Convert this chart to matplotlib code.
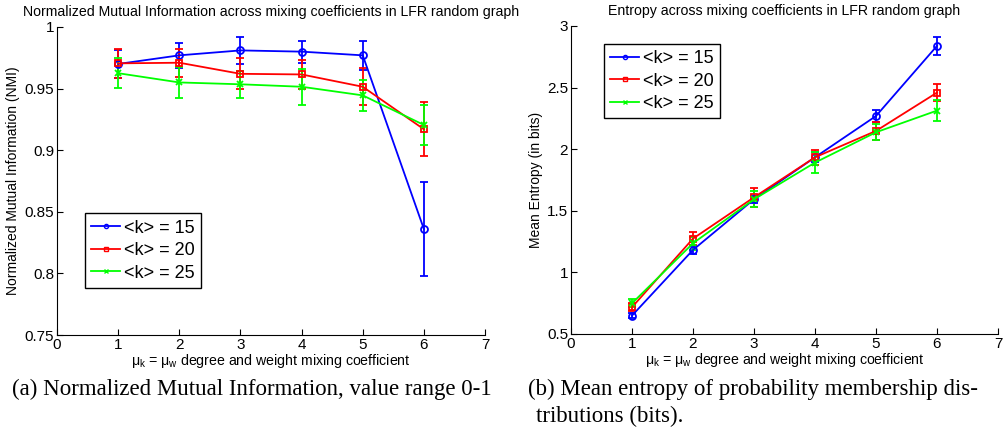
import numpy as np
import matplotlib
matplotlib.use('Agg')
import matplotlib.pyplot as plt
from matplotlib.ticker import FormatStrFormatter
from matplotlib.lines import Line2D

plt.rcParams['font.family'] = 'Liberation Sans'
plt.rcParams['mathtext.fontset'] = 'custom'
plt.rcParams['mathtext.rm'] = 'Liberation Sans'
plt.rcParams['mathtext.it'] = 'Liberation Sans'

# ============= Data
mu = [1, 2, 3, 4, 5, 6]
labels = ['<k> = 15', '<k> = 20', '<k> = 25']

nmi_k15 = [0.970, 0.977, 0.981, 0.980, 0.977, 0.836]
nmi_k15_err = [0.011, 0.010, 0.011, 0.009, 0.012, 0.038]
nmi_k20 = [0.9705, 0.971, 0.962, 0.9615, 0.9515, 0.917]
nmi_k20_err = [0.012, 0.0115, 0.0125, 0.012, 0.015, 0.022]
nmi_k25 = [0.9625, 0.955, 0.9535, 0.9515, 0.9445, 0.9205]
nmi_k25_err = [0.012, 0.0125, 0.011, 0.0145, 0.0125, 0.0165]

ent_k15 = [0.649, 1.182, 1.593, 1.934, 2.269, 2.838]
ent_k15_err = [0.02, 0.035, 0.03, 0.04, 0.045, 0.075]
ent_k20 = [0.717, 1.274, 1.609, 1.934, 2.148, 2.459]
ent_k20_err = [0.033, 0.052, 0.076, 0.061, 0.074, 0.069]
ent_k25 = [0.749, 1.236, 1.593, 1.891, 2.137, 2.313]
ent_k25_err = [0.031, 0.055, 0.064, 0.084, 0.064, 0.086]

colors = ['#0000ff', '#ff0000', '#00ff00']
markers = ['o', 's', 'x']
msizes = [5, 4.5, 4]

fig = plt.figure(figsize=(10.04, 4.32), dpi=100)
ax1 = fig.add_axes([0.0568, 0.2245, 0.4263, 0.713])
ax2 = fig.add_axes([0.5687, 0.2269, 0.4253, 0.713])


def draw(ax, series, errs, yticks, ylim, title, ylabel):
    for i in range(3):
        ax.errorbar(mu, series[i], yerr=errs[i], color=colors[i], marker=markers[i],
                    markersize=msizes[i], mfc='none', mew=1.3, linewidth=1.3,
                    elinewidth=1.3, capsize=2.8, capthick=1.3)
    ax.set_xlim(0, 7)
    ax.set_ylim(*ylim)
    ax.set_xticks(range(8))
    ax.set_yticks(yticks)
    ax.yaxis.set_major_formatter(FormatStrFormatter('%g'))
    ax.spines['top'].set_visible(False)
    ax.spines['right'].set_visible(False)
    ax.tick_params(direction='in', length=4, labelsize=11, pad=2)
    ax.set_title(title, fontsize=10.2, pad=8)
    ax.set_ylabel(ylabel, fontsize=10, labelpad=3)
    ax.set_xlabel(r'$\mu_k$ = $\mu_w$ degree and weight mixing coefficient', fontsize=10.2, labelpad=0.5)


draw(ax1, [nmi_k15, nmi_k20, nmi_k25], [nmi_k15_err, nmi_k20_err, nmi_k25_err],
     [0.75, 0.8, 0.85, 0.9, 0.95, 1.0], (0.75, 1.0),
     'Normalized Mutual Information across mixing coefficients in LFR random graph',
     'Normalized Mutual Information (NMI)')
draw(ax2, [ent_k15, ent_k20, ent_k25], [ent_k15_err, ent_k20_err, ent_k25_err],
     [0.5, 1, 1.5, 2, 2.5, 3], (0.5, 3),
     'Entropy across mixing coefficients in LFR random graph',
     'Mean Entropy (in bits)')

handles = [Line2D([], [], color=colors[i], marker=markers[i], markersize=3, mfc='none',
                  mew=1.0, linewidth=1.3) for i in range(3)]

for ax, loc, anchor in [(ax1, 'lower left', (0.065, 0.153)), (ax2, 'upper left', (0.077, 0.942))]:
    leg = ax.legend(handles, labels, loc=loc, bbox_to_anchor=anchor, fontsize=13,
                    frameon=True, fancybox=False, edgecolor='black', handlelength=1.6,
                    handletextpad=0.2, borderpad=0.35, labelspacing=0.3, borderaxespad=0,
                    framealpha=1)
    leg.get_frame().set_linewidth(1.0)

fig.text(0.012, 0.099, '(a) Normalized Mutual Information, value range 0-1',
         family='Liberation Serif', fontsize=16.5, va='center')
fig.text(0.526, 0.099, '(b) Mean entropy of probability membership dis-',
         family='Liberation Serif', fontsize=16.5, va='center')
fig.text(0.534, 0.035, 'tributions (bits).',
         family='Liberation Serif', fontsize=16.5, va='center')

fig.savefig('out.png', dpi=100)
